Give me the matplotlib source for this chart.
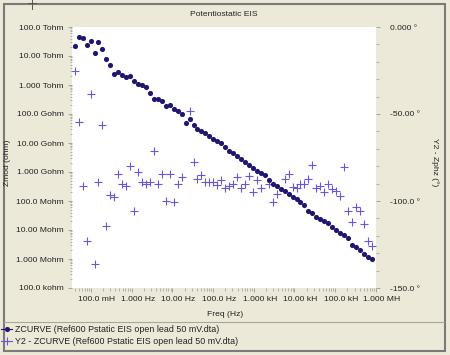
import matplotlib
matplotlib.use("Agg")
import matplotlib.pyplot as plt
import matplotlib.transforms as mtransforms
from matplotlib.lines import Line2D
from matplotlib.patches import Rectangle
from matplotlib.ticker import FixedLocator, LogLocator, NullFormatter
import numpy as np

# ---------------- data ----------------
freq_hz = [0.0398, 0.0498, 0.0623, 0.0780, 0.0976, 0.1221, 0.1528, 0.1911, 0.2392, 0.2992,
           0.3744, 0.4685, 0.5861, 0.7333, 0.9177, 1.148, 1.437, 1.798, 2.249, 2.814,
           3.522, 4.406, 5.512, 6.898, 8.630, 10.80, 13.51, 16.90, 21.15, 26.47,
           33.11, 41.43, 51.84, 64.86, 81.16, 101.6, 127.1, 159.0, 199.0, 248.9,
           311.5, 389.7, 487.5, 610.0, 763.3, 955.0, 1195, 1495, 1871, 2340,
           2929, 3664, 4585, 5737, 7178, 8982, 11240, 14060, 17590, 22010,
           27540, 34460, 43120, 53950, 67500, 84460, 105700, 132200, 165500, 207000,
           259000, 324100, 405500, 507400, 634800, 794300]

zmod_ohm = [2.19e13, 4.37e13, 4.07e13, 2.34e13, 3.31e13, 1.26e13, 2.95e13, 1.78e13, 7.76e12, 4.79e12,
            2.40e12, 2.82e12, 2.29e12, 1.95e12, 2.09e12, 1.41e12, 1.10e12, 9.77e11, 8.71e11, 5.25e11,
            3.39e11, 3.24e11, 2.75e11, 1.91e11, 2.04e11, 1.45e11, 1.29e11, 1.00e11, 5.01e10, 6.61e10,
            4.07e10, 2.95e10, 2.51e10, 2.29e10, 1.74e10, 1.35e10, 1.15e10, 9.77e9, 7.41e9, 5.37e9,
            4.37e9, 3.55e9, 2.88e9, 2.19e9, 1.70e9, 1.38e9, 1.05e9, 9.12e8, 7.76e8, 5.25e8,
            3.89e8, 3.31e8, 2.51e8, 2.29e8, 1.74e8, 1.41e8, 1.15e8, 9.33e7, 7.41e7, 4.68e7,
            3.98e7, 2.88e7, 2.45e7, 2.09e7, 1.70e7, 1.29e7, 1.00e7, 8.13e6, 6.61e6, 5.25e6,
            2.95e6, 2.51e6, 2.04e6, 1.48e6, 1.20e6, 9.77e5]

zphz_deg = [-25.3, -54.4, -91.4, -122.8, -38.5, -136.2, -88.9, -56.5, -114.2, -96.6,
            -97.9, -84.5, -90.2, -91.2, -79.7, -105.9, -83.5, -88.9, -90.2, -89.3,
            -71.3, -90.2, -84.5, -99.8, -84.5, -100.7, -90.2, -86.0, np.nan, -48.1,
            -77.4, -87.4, -85.1, -89.3, -89.3, -89.3, -90.8, -87.9, -92.7, -91.4,
            -90.4, -86.0, -92.7, -90.4, -85.5, -94.6, -87.9, -92.4, np.nan, -90.4,
            -100.4, -96.2, np.nan, -87.5, -84.7, -91.8, -92.7, -90.4, -90.2, -87.5,
            -79.3, -92.7, -91.4, -94.6, -90.2, -93.3, -94.1, -97.0, -80.3, -105.6,
            -112.2, -103.6, -105.6, -113.2, -122.8, -125.7]

x_ticks = [0.1, 1, 10, 100, 1e3, 1e4, 1e5, 1e6]
x_tick_labels = ["100.0 mH", "1.000 Hz", "10.00 Hz", "100.0 Hz", "1.000 kH",
                 "10.00 kH", "100.0 kH", "1.000 MH"]
y_ticks = [1e5, 1e6, 1e7, 1e8, 1e9, 1e10, 1e11, 1e12, 1e13, 1e14]
y_tick_labels = ["100.0 kohm", "1.000 Mohm", "10.00 Mohm", "100.0 Mohm", "1.000 Gohm",
                 "10.00 Gohm", "100.0 Gohm", "1.000 Tohm", "10.00 Tohm", "100.0 Tohm"]
y2_ticks = [0, -50, -100, -150]
y2_tick_labels = ["0.000 °", "-50.00 °", "-100.0 °", "-150.0 °"]

title = "Potentiostatic EIS"
x_label = "Freq (Hz)"
y_label = "Zmod (ohm)"
y2_label = "Y2 - Zphz (°)"
legend_labels = ["ZCURVE (Ref600 Pstatic EIS open lead 50 mV.dta)",
                 "Y2 - ZCURVE (Ref600 Pstatic EIS open lead 50 mV.dta)"]

# ---------------- style ----------------
W, H = 450, 355
BG = "#ECE9D8"
DOT = "#1E1670"
CROSS = "#6E54DC"
TXT = "#222222"
TICK = "#9a9a9a"
FS = 6.1
plt.rcParams["font.family"] = ["Liberation Sans", "DejaVu Sans"]

fig = plt.figure(figsize=(W / 100, H / 100), dpi=100, facecolor=BG)

def fx(px):
    return px / W

def fy(py):
    return 1 - py / H

# outer frame
fig.patches.append(Rectangle((fx(3.5), fy(351)), fx(445) - fx(3.5), fy(4) - fy(351),
                             transform=fig.transFigure, fill=False,
                             edgecolor="#7a7a7a", linewidth=1.5, zorder=0))
fig.add_artist(Line2D([fx(4), fx(444)], [fy(322), fy(322)], transform=fig.transFigure,
                      color="#a8a79c", linewidth=0.8))
# small cursor mark at the top left
fig.add_artist(Line2D([fx(32), fx(32)], [fy(0), fy(9)], transform=fig.transFigure,
                      color="#555555", linewidth=0.7))
fig.add_artist(Line2D([fx(28), fx(36)], [fy(3), fy(3)], transform=fig.transFigure,
                      color="#555555", linewidth=0.7))

ax_l, ax_r, ax_t, ax_b = 72, 376, 27, 288
ax = fig.add_axes([fx(ax_l), fy(ax_b), fx(ax_r) - fx(ax_l), fy(ax_t) - fy(ax_b)])
ax.set_facecolor("white")
ax2 = ax.twinx()

ax.set_xscale("log")
ax.set_yscale("log")
ax.set_xlim(10 ** -1.4668, 10 ** 6.004)
ax.set_ylim(1e5, 1e14)
ax2.set_ylim(-150, 0)

ax2.plot(freq_hz, zphz_deg, linestyle="none", marker="+", markersize=5.5,
         markeredgewidth=0.8, color=CROSS, zorder=2)
ax.set_zorder(ax2.get_zorder() + 1)
ax.patch.set_visible(False)
ax2.patch.set_visible(True)
ax2.patch.set_facecolor("white")
ax.plot(freq_hz, zmod_ohm, linestyle="none", marker="o", markersize=3.7,
        markeredgewidth=0, color=DOT, zorder=3)

for a in (ax, ax2):
    for s in a.spines.values():
        s.set_visible(False)

ax.xaxis.set_major_locator(FixedLocator(x_ticks))
ax.set_xticklabels(x_tick_labels)
ax.xaxis.set_minor_locator(LogLocator(base=10, subs=np.arange(2, 10), numticks=20))
ax.xaxis.set_minor_formatter(NullFormatter())
ax.yaxis.set_major_locator(FixedLocator(y_ticks))
ax.set_yticklabels(y_tick_labels)
ax.yaxis.set_minor_locator(LogLocator(base=10, subs=np.arange(2, 10), numticks=20))
ax.yaxis.set_minor_formatter(NullFormatter())
ax2.yaxis.set_major_locator(FixedLocator(y2_ticks))
ax2.set_yticklabels(y2_tick_labels)
ax2.yaxis.set_minor_locator(FixedLocator(list(range(-150, 1, 10))))

ax.tick_params(axis="x", which="major", length=3, width=0.6, color=TICK, pad=2.5,
               labelsize=FS, labelcolor=TXT)
ax.tick_params(axis="x", which="minor", length=1.8, width=0.5, color=TICK)
ax.tick_params(axis="y", which="major", length=3, width=0.6, color=TICK, pad=3,
               labelsize=FS, labelcolor=TXT)
ax.tick_params(axis="y", which="minor", length=1.8, width=0.5, color=TICK)
ax2.tick_params(axis="y", which="major", length=3, width=0.6, color=TICK, pad=7,
                labelsize=FS, labelcolor=TXT)
ax2.tick_params(axis="y", which="minor", length=2.2, width=0.5, color=TICK)

offset = mtransforms.ScaledTranslation(0.06, 0, fig.dpi_scale_trans)
for lab in ax.get_xticklabels():
    lab.set_transform(lab.get_transform() + offset)

fig.text(fx(224), fy(15), title, ha="center", va="center", fontsize=FS, color=TXT)
fig.text(fx(225), fy(314), x_label, ha="center", va="center", fontsize=FS, color=TXT)
fig.text(fx(8), fy(163), y_label, ha="center", va="center", rotation=90, fontsize=FS, color=TXT)
fig.text(fx(435), fy(162), y2_label, ha="center", va="center", rotation=-90, fontsize=FS, color=TXT)

handles = [Line2D([], [], color=DOT, marker="o", markersize=3.7, markeredgewidth=0, linewidth=0.8),
           Line2D([], [], color=CROSS, marker="+", markersize=5.5, markeredgewidth=0.8, linewidth=0.8)]
fig.legend(handles, legend_labels, loc="upper left", bbox_to_anchor=(fx(1), fy(325)),
           frameon=False, fontsize=6.4, handlelength=1.25, handletextpad=0.3,
           labelspacing=0.3, borderpad=0, borderaxespad=0, labelcolor=TXT)

fig.savefig("out.png", dpi=100, facecolor=BG)
